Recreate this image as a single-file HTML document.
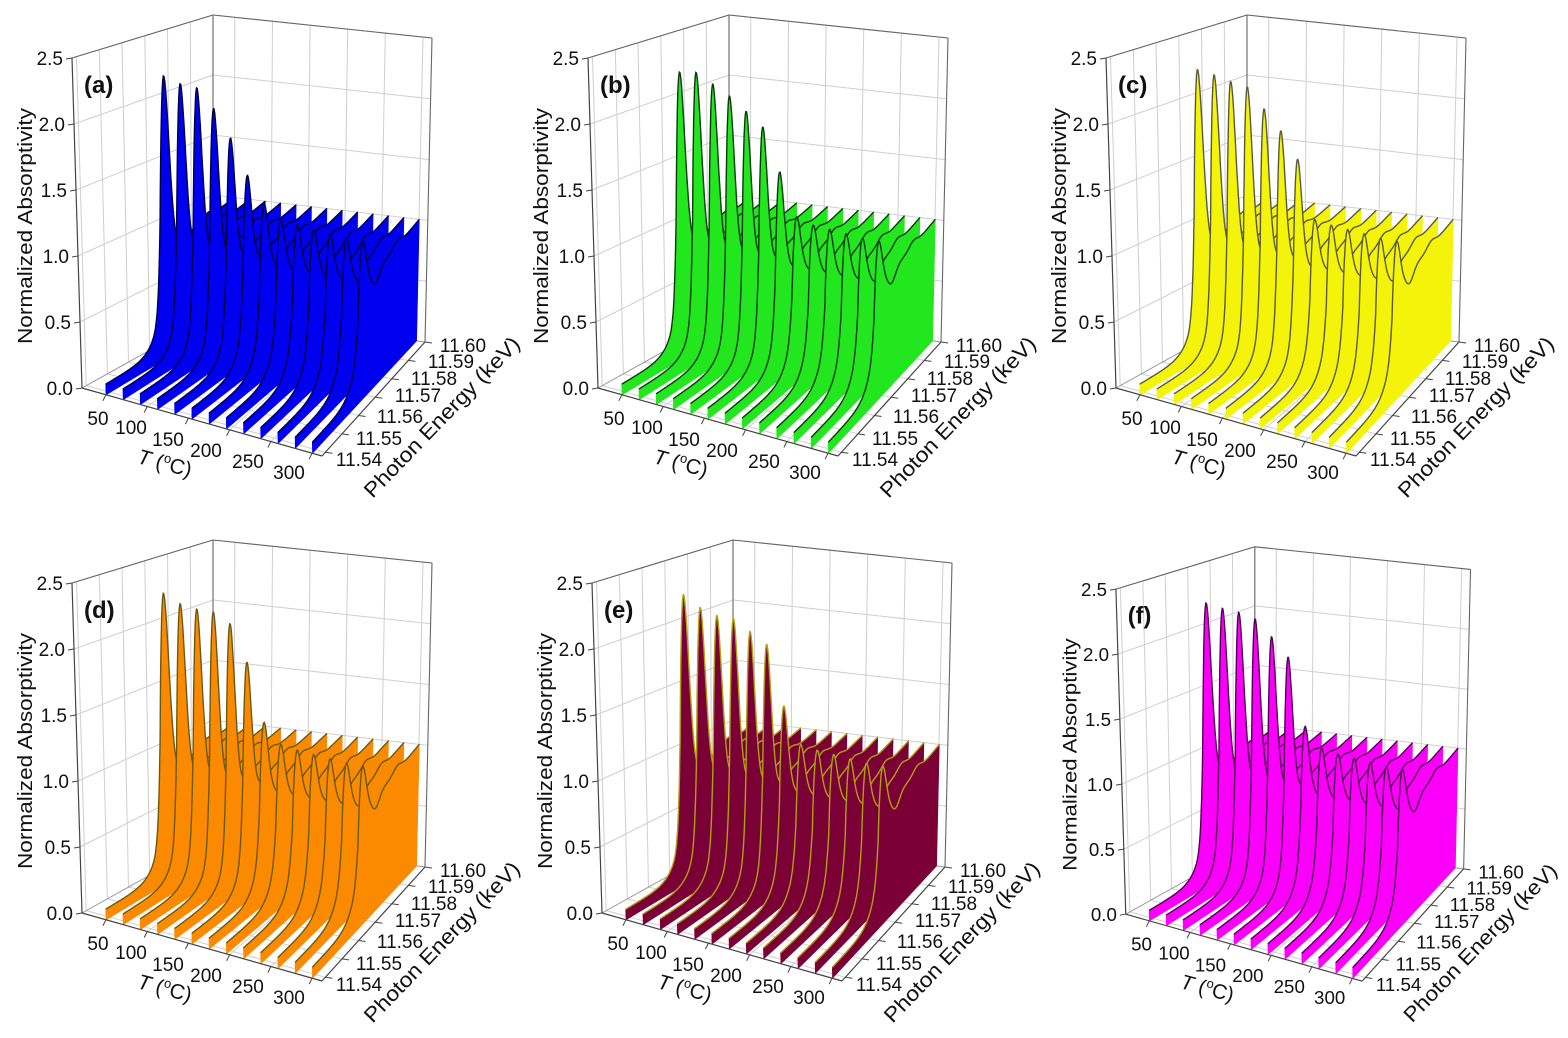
<!DOCTYPE html>
<html><head><meta charset="utf-8">
<style>
html,body{margin:0;padding:0;background:#fff;}
svg{display:block;}
text{font-family:"Liberation Sans",Arial,sans-serif;fill:#111;}
</style></head>
<body>
<svg id="s" width="1568" height="1038" viewBox="0 0 1568 1038" xmlns="http://www.w3.org/2000/svg"></svg>
<script>
(function(){
var B={p000:[82,388],p100:[322,456],p110:[425,342],p010:[213,315],
       p001:[72,58],p101:[315,111],p111:[432,38],p011:[213,15]};
function bil(a,b,c,d,t,e){
  return [a[0]*(1-t)*(1-e)+b[0]*t*(1-e)+c[0]*t*e+d[0]*(1-t)*e,
          a[1]*(1-t)*(1-e)+b[1]*t*(1-e)+c[1]*t*e+d[1]*(1-t)*e];}
function P(t,e,z){
  var b=bil(B.p000,B.p100,B.p110,B.p010,t,e), u=bil(B.p001,B.p101,B.p111,B.p011,t,e), f=z/2.5;
  return [b[0]+(u[0]-b[0])*f, b[1]+(u[1]-b[1])*f];}
function f2(p){return p[0].toFixed(1)+","+p[1].toFixed(1);}
function line(a,b,c,w){return '<line x1="'+a[0].toFixed(1)+'" y1="'+a[1].toFixed(1)+'" x2="'+b[0].toFixed(1)+'" y2="'+b[1].toFixed(1)+'" stroke="'+c+'" stroke-width="'+w+'"/>';}
function tf(T){return (T-21)/291;}
function ef(E){return (E-11.538)/0.062;}
function zf(e,Pk,dip){
  var c=0.44;
  var s = e<c ? 0.5*Math.exp((e-c)/0.06) : 1-0.5*Math.exp(-(e-c)/0.018);
  var z=0.08+0.82*s;
  z+=(Pk-0.9)*Math.exp(-Math.pow((e-0.48)/0.045,2));
  z-=dip*Math.exp(-Math.pow((e-0.6)/0.05,2));
  if(e>0.64) z+=0.1*(e-0.64)/0.36;
  z+=0.04*Math.exp(-Math.pow((e-0.8)/0.05,2));
  return z;}
function panel(ox,oy,sc,fill,stroke,peaks,lab){
  var g='<g transform="translate('+ox+','+oy+') scale('+sc+')">';
  var gc='#cfcfcf';
  var i,k;
  for(k=1;k<=5;k++){var z=k*0.5; g+=line(P(0,0,z),P(0,1,z),gc,1);}
  var Es=[11.54,11.55,11.56,11.57,11.58,11.59,11.60];
  for(k=0;k<Es.length;k++){var e=ef(Es[k]); g+=line(P(0,e,0),P(0,e,2.5),gc,1); g+=line(P(0,e,0),P(1,e,0),gc,1);}
  for(k=1;k<=5;k++){var z=k*0.5; g+=line(P(0,1,z),P(1,1,z),gc,1);}
  var Ts=[50,100,150,200,250,300];
  for(k=0;k<Ts.length;k++){var t=tf(Ts[k]); g+=line(P(t,1,0),P(t,1,2.5),gc,1); g+=line(P(t,0,0),P(t,1,0),gc,1);}
  var bc='#666';
  g+=line(P(0,1,0),P(0,1,2.5),bc,1.1)+line(P(1,1,0),P(1,1,2.5),bc,1.1)
    +line(P(0,0,2.5),P(0,1,2.5),bc,1.1)+line(P(0,1,2.5),P(1,1,2.5),bc,1.1)
    +line(P(0,0,0),P(0,1,0),'#999',1)+line(P(0,1,0),P(1,1,0),'#999',1);
  for(i=0;i<13;i++){
    var t=0.10+i*0.0717, Pk=peaks[i], dip=(i>=6?0.1:0.05);
    var pts=[],poly=[];
    for(var s=0;s<=200;s++){var e=s/200; pts.push(f2(P(t,e,zf(e,Pk,dip))));}
    poly=[f2(P(t,0,0))].concat(pts).concat([f2(P(t,1,0))]);
    g+='<polygon points="'+poly.join(' ')+'" fill="'+fill+'" stroke="'+fill+'" stroke-width="0.6"/>';
    g+='<polyline points="'+pts.join(' ')+'" fill="none" stroke="'+stroke+'" stroke-width="1.4"/>';
  }
  g+=line(P(0,0,0),P(0,0,2.5),'#444',1.2)+line(P(0,0,0),P(1,0,0),'#444',1.2)+line(P(1,0,0),P(1,1,0),'#444',1.2);
  var zl=['0.0','0.5','1.0','1.5','2.0','2.5'];
  for(k=0;k<6;k++){var p=P(0,0,k*0.5); g+=line([p[0]-6,p[1]+1],p,'#444',1);
    g+='<text x="'+(p[0]-9).toFixed(1)+'" y="'+(p[1]+7).toFixed(1)+'" font-size="19" text-anchor="end">'+zl[k]+'</text>';}
  var tl=[[98,418],[131,427],[168,439],[206,450],[248,461],[289,472]];
  for(k=0;k<Ts.length;k++){var p=P(tf(Ts[k]),0,0); g+=line(p,[p[0]-3,p[1]+6],'#444',1);
    g+='<text x="'+tl[k][0]+'" y="'+(tl[k][1]+7)+'" font-size="19" text-anchor="middle">'+Ts[k]+'</text>';}
  var el=[[359,459],[379,438],[400,416],[418,395],[434,378],[451,361],[463,345]];
  for(k=0;k<Es.length;k++){var p=P(1,ef(Es[k]),0); g+=line(p,[p[0]+7,p[1]+1],'#444',1);
    g+='<text x="'+el[k][0]+'" y="'+(el[k][1]+7)+'" font-size="19" text-anchor="middle">'+Es[k].toFixed(2)+'</text>';}
  g+='<text transform="translate(32,226) rotate(-90)" font-size="20" text-anchor="middle" textLength="236" lengthAdjust="spacingAndGlyphs">Normalized Absorptivity</text>';
  g+='<text transform="translate(163,470) rotate(15)" font-size="21" text-anchor="middle"><tspan font-style="italic">T</tspan> (<tspan font-size="13" dy="-8">o</tspan><tspan dy="8">C)</tspan></text>';
  g+='<text transform="translate(447,422) rotate(-46)" font-size="21" text-anchor="middle" textLength="214" lengthAdjust="spacingAndGlyphs">Photon Energy (keV)</text>';
  g+='<text x="84" y="93" font-size="24" font-weight="bold">('+lab+')</text>';
  g+='</g>';
  return g;}
var H='';
H+=panel(0,0,1,'#0000f0','#000040',[2.27,2.23,2.22,2.08,1.87,1.6,1.4,1.3,1.28,1.27,1.26,1.25,1.25],'a');
H+=panel(516,0,1,'#22e61e','#0b3a0b',[2.3,2.32,2.25,2.18,2.08,1.98,1.65,1.32,1.28,1.27,1.26,1.25,1.25],'b');
H+=panel(1034,0,1,'#f4f40a','#5a5a3a',[2.32,2.3,2.27,2.25,2.1,1.95,1.75,1.3,1.28,1.27,1.26,1.25,1.25],'c');
H+=panel(0,525,1,'#fb8a00','#6a5a10',[2.33,2.27,2.25,2.25,2.18,1.9,1.45,1.3,1.28,1.27,1.26,1.25,1.25],'d');
H+=panel(520,525,1,'#7a0036','#b0a010',[2.32,2.24,2.2,2.2,2.12,2.04,1.58,1.3,1.28,1.27,1.26,1.25,1.25],'e');
H+=panel(1045,532,0.985,'#fa00fa','#500050',[2.3,2.28,2.27,2.24,2.12,1.98,1.45,1.3,1.28,1.27,1.26,1.25,1.25],'f');
document.getElementById('s').innerHTML=H;
})();
</script>
</body></html>
